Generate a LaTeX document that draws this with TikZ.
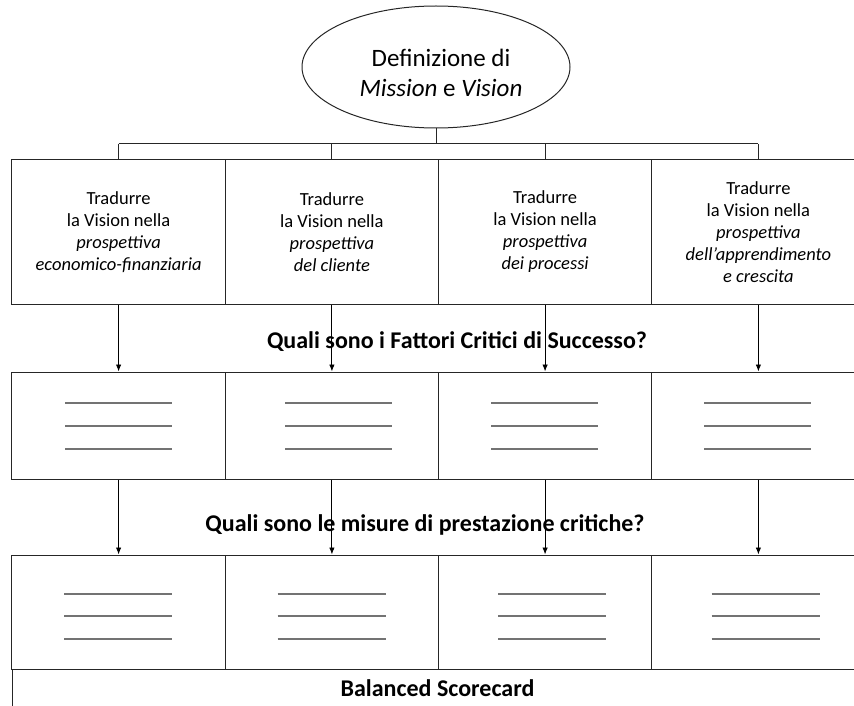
\documentclass[tikz,border=0pt]{standalone}
\usepackage{fontspec}
\setmainfont{Carlito}
\usetikzlibrary{arrows.meta,shapes.geometric,calc}

\begin{document}
\begin{tikzpicture}[x=1pt,y=-1pt,
  frame/.style={draw=black!85, line width=1pt},
  cell/.style={frame, minimum width=213.25pt, inner sep=0pt, align=center,
    font=\fontsize{18.5}{22}\selectfont},
  rule/.style={draw=black!55, line width=1.4pt},
  arr/.style={draw=black, line width=0.9pt, -{Latex[length=7pt,width=5.5pt]}},
  conn/.style={draw=black!85, line width=1pt},
  question/.style={font=\fontsize{24}{28}\selectfont\bfseries, inner sep=0pt}
]
\useasboundingbox (0,0) rectangle (854,706);
\clip (0,0) rectangle (854,706);

% top: mission and vision
\node[frame, ellipse, minimum width=268pt, minimum height=122pt, inner sep=0pt] (mv) at (436,67) {};
\node[align=center, inner sep=0pt, font=\fontsize{25}{30}\selectfont] (mvtext) at (441,73)
  {Definizione di\\ \textit{Mission} e \textit{Vision}};

% first row: the four perspectives
\node[cell, minimum height=144pt] (t1) at (118.6,232)
  {Tradurre\\ la Vision nella\\ \textit{prospettiva}\\ \textit{economico-finanziaria}};
\node[cell, minimum height=144pt] (t2) at (331.9,232)
  {Tradurre\\ la Vision nella\\ \textit{prospettiva}\\ \textit{del cliente}};
\node[cell, minimum height=144pt] (t3) at (545.1,232)
  {Tradurre\\ la Vision nella\\ \textit{prospettiva}\\ \textit{dei processi}};
\node[cell, minimum height=144pt] (t4) at (758.4,232)
  {Tradurre\\ la Vision nella\\ \textit{prospettiva}\\ \textit{dell’apprendimento}\\ \textit{e crescita}};

% second row: critical success factors
\node[cell, minimum height=107pt] (f1) at (118.6,425.5) {};
\node[cell, minimum height=107pt] (f2) at (331.9,425.5) {};
\node[cell, minimum height=107pt] (f3) at (545.1,425.5) {};
\node[cell, minimum height=107pt] (f4) at (758.4,425.5) {};

% third row: critical performance measures
\node[cell, minimum height=114pt] (m1) at (118.6,612) {};
\node[cell, minimum height=114pt] (m2) at (331.9,612) {};
\node[cell, minimum height=114pt] (m3) at (545.1,612) {};
\node[cell, minimum height=114pt] (m4) at (758.4,612) {};

% bottom band
\node[frame, minimum width=853pt, minimum height=48pt, inner sep=0pt] (bsc) at (438.5,693) {};
\node[question] (bsct) at (437.5,688) {Balanced Scorecard};

% placeholder rules inside the empty cells
\foreach \cx in {118.5,338.5,544.5,757.5}
  \foreach \ry in {403,426,449}
    \draw[rule] (\cx-53.5,\ry) -- (\cx+53.5,\ry);
\foreach \cx in {118,331.5,552,765.5}
  \foreach \ry in {594,616,639}
    \draw[rule] (\cx-54,\ry) -- (\cx+54,\ry);

% questions between the rows
\node[question] (q1) at (457,342) {Quali sono i Fattori Critici di Successo?};
\node[question] (q2) at (425,525) {Quali sono le misure di prestazione critiche?};

% tree from the ellipse to the first row
\coordinate (busL) at (118.6,144);
\coordinate (busR) at (758.4,144);
\draw[conn] (mv.south) -- (mv.south |- busL);
\draw[conn] (busL) -- (busR);
\draw[conn] (busL) -- (t1.north);
\draw[conn] (t2.north |- busL) -- (t2.north);
\draw[conn] (t3.north |- busL) -- (t3.north);
\draw[conn] (busR) -- (t4.north);

% arrows between rows
\foreach \i in {1,2,3,4} {
  \draw[arr] (t\i.south) -- (f\i.north);
  \draw[arr] (f\i.south) -- (m\i.north);
}
\end{tikzpicture}
\end{document}
